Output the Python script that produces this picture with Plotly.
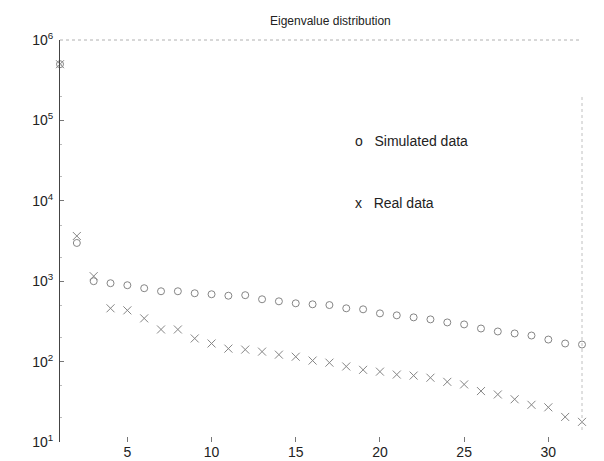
import plotly.graph_objects as go

# Eigenvalue index
index = list(range(1, 33))

# Eigenvalues from the simulated data set
simulated = [500000, 2990, 1000, 944, 891, 818, 750, 750, 708, 688, 660, 670,
             596, 562, 531, 516, 505, 460, 447, 398, 376, 355, 335, 307,
             290, 258, 237, 224, 211, 188, 168, 163]

# Eigenvalues from the real data set
real = [500000, 3650, 1155, 460, 434, 345, 251, 251, 194, 168, 145, 141,
        133, 122, 115, 103, 97, 87, 79, 75, 69, 67, 63, 56,
        52, 43, 39, 34, 29, 27, 20.5, 17.8]

x_ticks = [5, 10, 15, 20, 25, 30]
y_ticks = [10, 100, 1000, 10000, 100000, 1000000]
y_tick_text = ["10<sup>1</sup>", "10<sup>2</sup>", "10<sup>3</sup>",
               "10<sup>4</sup>", "10<sup>5</sup>", "10<sup>6</sup>"]

FONT = "Liberation Sans, Arial, Helvetica, sans-serif"
MARK = "#858585"

W, H = 604, 461
# Axes box in pixels: left, right, top, bottom
AX_L, AX_R, AX_T, AX_B = 60, 582, 40, 442


def px(x):
    return x / W


def py(y):
    return 1 - y / H


fig = go.Figure()
fig.add_trace(go.Scatter(
    x=index, y=simulated, mode="markers", name="Simulated data",
    marker=dict(symbol="circle-open", size=7, color=MARK, line=dict(width=1, color=MARK)),
    cliponaxis=False,
))
fig.add_trace(go.Scatter(
    x=index, y=real, mode="markers", name="Real data",
    marker=dict(symbol="x-thin-open", size=8, color=MARK, line=dict(width=1, color=MARK)),
    cliponaxis=False,
))

fig.update_layout(
    width=W, height=H,
    margin=dict(l=0, r=0, t=0, b=0),
    paper_bgcolor="white", plot_bgcolor="white",
    showlegend=False,
    font=dict(family=FONT, size=14, color="#222"),
    xaxis=dict(
        domain=[px(AX_L), px(AX_R)],
        range=[1, 32], tickvals=x_ticks, ticks="inside", ticklen=5,
        tickcolor="#777", showline=False, showgrid=False, zeroline=False,
        automargin=False, tickfont=dict(size=14, color="#222"),
    ),
    yaxis=dict(
        domain=[py(AX_B), py(AX_T)],
        type="log", range=[1, 6], tickvals=y_ticks, ticktext=y_tick_text,
        ticks="inside", ticklen=4, tickcolor="#777",
        showline=True, linecolor="#444", linewidth=1,
        showgrid=False, zeroline=False, ticklabelstandoff=3,
        automargin=False, tickfont=dict(size=14, color="#222"),
        minor=dict(ticks="inside", ticklen=2, tickcolor="#bbb", showgrid=False),
    ),
)

# Faint dotted top and right frame of the axes box
fig.add_shape(type="line", xref="paper", yref="paper",
              x0=px(AX_L), x1=px(AX_R), y0=py(AX_T), y1=py(AX_T),
              line=dict(color="#b0b0b0", width=1, dash="dot"))
fig.add_shape(type="line", xref="paper", yref="paper",
              x0=px(AX_R), x1=px(AX_R), y0=py(430), y1=py(96),
              line=dict(color="#c0c0c0", width=1, dash="dot"))

# Title
fig.add_annotation(text="Eigenvalue distribution", xref="paper", yref="paper",
                   x=px(330), y=py(21), xanchor="center", yanchor="middle", showarrow=False,
                   font=dict(family=FONT, size=12, color="#222"))

# Legend text labels
fig.add_annotation(text="o   Simulated data", xref="paper", yref="paper",
                   x=px(353), y=py(141), xanchor="left", yanchor="middle", showarrow=False,
                   font=dict(family=FONT, size=14, color="#222"))
fig.add_annotation(text="x   Real data", xref="paper", yref="paper",
                   x=px(353), y=py(203), xanchor="left", yanchor="middle", showarrow=False,
                   font=dict(family=FONT, size=14, color="#222"))

fig.write_html("out.html", config={"displayModeBar": False})
